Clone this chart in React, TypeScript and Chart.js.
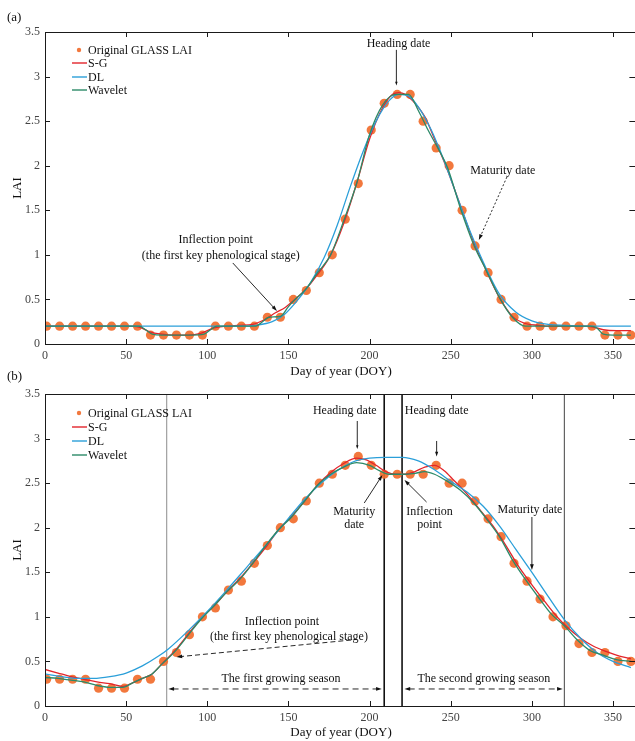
import { useEffect, useRef } from 'react';
import { Chart, registerables } from 'chart.js';

Chart.register(...registerables);

const SERIF = "'Liberation Serif', 'Times New Roman', Times, serif";

const xTickValues = [0, 50, 100, 150, 200, 250, 300, 350];
const yTickValues = [0, 0.5, 1, 1.5, 2, 2.5, 3, 3.5];
const yTickLabels = ['0', '0.5', '1', '1.5', '2', '2.5', '3', '3.5'];

const seriesNames = ['Original GLASS LAI', 'S-G', 'DL', 'Wavelet'];
const seriesColors = ['rgba(241,108,44,0.92)', '#e3242b', '#2b9fd9', '#2c8a68'];

// GLASS LAI 8-day composites
const obsDays = [
  1, 9, 17, 25, 33, 41, 49, 57, 65, 73, 81, 89, 97, 105, 113, 121, 129, 137, 145, 153, 161, 169, 177,
  185, 193, 201, 209, 217, 225, 233, 241, 249, 257, 265, 273, 281, 289, 297, 305, 313, 321, 329, 337,
  345, 353, 361,
];

// (a) single growing season
const obsLaiA = [
  0.2, 0.2, 0.2, 0.2, 0.2, 0.2, 0.2, 0.2, 0.1, 0.1, 0.1, 0.1, 0.1, 0.2, 0.2, 0.2, 0.2, 0.3, 0.3, 0.5,
  0.6, 0.8, 1.0, 1.4, 1.8, 2.4, 2.7, 2.8, 2.8, 2.5, 2.2, 2.0, 1.5, 1.1, 0.8, 0.5, 0.3, 0.2, 0.2, 0.2,
  0.2, 0.2, 0.2, 0.1, 0.1, 0.1,
];

const sgDaysA = [0, 10, 20, 30, 40, 50, 58, 64, 72, 80, 88, 96, 104, 112, 120, 128, 136, 142, 148, 154, 160, 168, 176, 184, 192, 200, 208, 214, 218, 222, 228, 234, 240, 248, 256, 264, 272, 280, 288, 296, 304, 312, 320, 330, 338, 344, 352, 361];
const sgLaiA = [0.2, 0.2, 0.2, 0.2, 0.2, 0.2, 0.19, 0.14, 0.11, 0.1, 0.1, 0.12, 0.18, 0.2, 0.21, 0.22, 0.28, 0.35, 0.41, 0.5, 0.6, 0.78, 1.0, 1.35, 1.8, 2.3, 2.65, 2.8, 2.82, 2.8, 2.7, 2.55, 2.3, 1.95, 1.55, 1.15, 0.82, 0.52, 0.31, 0.23, 0.21, 0.2, 0.2, 0.2, 0.19, 0.16, 0.15, 0.15];

const dlDaysA = [0, 40, 80, 120, 130, 140, 148, 156, 164, 172, 180, 188, 196, 204, 212, 218, 224, 230, 238, 246, 254, 262, 270, 280, 290, 300, 310, 320, 340, 361];
const dlLaiA = [0.2, 0.2, 0.2, 0.2, 0.21, 0.25, 0.34, 0.5, 0.7, 0.97, 1.33, 1.76, 2.16, 2.5, 2.73, 2.8, 2.78, 2.66, 2.4, 2.05, 1.65, 1.26, 0.92, 0.56, 0.36, 0.26, 0.22, 0.21, 0.2, 0.2];

const wvDaysA = [0, 10, 20, 30, 40, 50, 58, 62, 66, 72, 80, 90, 98, 102, 106, 114, 122, 130, 134, 138, 145, 150, 154, 160, 168, 176, 184, 192, 200, 208, 216, 224, 230, 236, 242, 248, 256, 264, 272, 280, 288, 296, 304, 320, 336, 340, 344, 350, 361];
const wvLaiA = [0.2, 0.2, 0.2, 0.2, 0.2, 0.2, 0.2, 0.16, 0.11, 0.1, 0.1, 0.1, 0.11, 0.16, 0.2, 0.2, 0.2, 0.2, 0.25, 0.3, 0.31, 0.42, 0.5, 0.6, 0.8, 1.0, 1.38, 1.8, 2.35, 2.68, 2.8, 2.8, 2.62, 2.4, 2.2, 1.98, 1.52, 1.12, 0.82, 0.52, 0.3, 0.2, 0.2, 0.2, 0.2, 0.18, 0.11, 0.1, 0.1];

// (b) two growing seasons
const obsLaiB = [
  0.3, 0.3, 0.3, 0.3, 0.2, 0.2, 0.2, 0.3, 0.3, 0.5, 0.6, 0.8, 1.0, 1.1, 1.3, 1.4, 1.6, 1.8, 2.0, 2.1,
  2.3, 2.5, 2.6, 2.7, 2.8, 2.7, 2.6, 2.6, 2.6, 2.6, 2.7, 2.5, 2.5, 2.3, 2.1, 1.9, 1.6, 1.4, 1.2, 1.0,
  0.9, 0.7, 0.6, 0.6, 0.5, 0.5,
];

const sgDaysB = [0, 8, 16, 24, 32, 40, 48, 54, 60, 66, 72, 80, 88, 96, 104, 112, 120, 128, 136, 144, 152, 160, 168, 176, 184, 192, 198, 204, 210, 216, 222, 228, 234, 240, 246, 252, 260, 268, 276, 284, 292, 300, 308, 316, 322, 330, 338, 346, 354, 361];
const sgLaiB = [0.41, 0.37, 0.33, 0.3, 0.27, 0.25, 0.22, 0.26, 0.31, 0.36, 0.47, 0.62, 0.8, 0.98, 1.12, 1.28, 1.43, 1.6, 1.78, 1.98, 2.13, 2.3, 2.48, 2.62, 2.72, 2.78, 2.76, 2.7, 2.63, 2.6, 2.6, 2.63, 2.68, 2.7, 2.64, 2.53, 2.38, 2.2, 2.02, 1.8, 1.56, 1.36, 1.17, 0.99, 0.88, 0.76, 0.67, 0.61, 0.56, 0.53];

const dlDaysB = [0, 10, 20, 30, 40, 50, 60, 70, 76, 88, 100, 112, 124, 136, 148, 160, 170, 180, 190, 200, 210, 220, 230, 240, 250, 260, 270, 280, 290, 300, 310, 320, 330, 340, 350, 361];
const dlLaiB = [0.36, 0.33, 0.31, 0.31, 0.33, 0.37, 0.45, 0.56, 0.64, 0.84, 1.06, 1.3, 1.55, 1.8, 2.06, 2.32, 2.5, 2.64, 2.74, 2.78, 2.79, 2.79, 2.75, 2.65, 2.52, 2.4, 2.24, 2.02, 1.76, 1.5, 1.23, 0.97, 0.76, 0.6, 0.5, 0.43];

const wvDaysB = [0, 8, 16, 24, 32, 40, 48, 54, 60, 66, 72, 80, 88, 96, 104, 112, 120, 128, 136, 144, 152, 160, 168, 176, 184, 192, 200, 206, 212, 220, 228, 234, 240, 248, 256, 264, 272, 280, 288, 296, 304, 312, 320, 328, 336, 344, 352, 361];
const wvLaiB = [0.32, 0.31, 0.29, 0.27, 0.23, 0.21, 0.21, 0.26, 0.31, 0.36, 0.47, 0.61, 0.79, 0.97, 1.12, 1.28, 1.42, 1.6, 1.8, 1.98, 2.12, 2.3, 2.48, 2.6, 2.68, 2.73, 2.7, 2.64, 2.6, 2.6, 2.61, 2.63, 2.6, 2.52, 2.42, 2.28, 2.1, 1.9, 1.64, 1.42, 1.22, 1.03, 0.9, 0.74, 0.62, 0.57, 0.52, 0.5];

// season boundaries drawn in (b): start of season 1, end of season 1, start / end of season 2
const seasonLinesB = [75, 209, 220, 320];

type Ctx = CanvasRenderingContext2D;
type Map1 = (v: number) => number;

// canvases run a little past the page edge so the right spine sits just outside the view
const CANVAS_W = 642;

function pairs(xs: number[], ys: number[]) {
  return xs.map((x, i) => ({ x, y: ys[i] }));
}

function label(ctx: Ctx, s: string, x: number, y: number, align: CanvasTextAlign = 'center', size = 12) {
  ctx.save();
  ctx.font = `${size}px ${SERIF}`;
  ctx.fillStyle = '#111';
  ctx.textAlign = align;
  ctx.textBaseline = 'middle';
  ctx.fillText(s, x, y);
  ctx.restore();
}

function arrow(
  ctx: Ctx,
  x1: number,
  y1: number,
  x2: number,
  y2: number,
  o: { dash?: number[]; both?: boolean; head?: number; lw?: number } = {},
) {
  const head = o.head ?? 6;
  const a = Math.atan2(y2 - y1, x2 - x1);
  ctx.save();
  ctx.strokeStyle = '#111';
  ctx.fillStyle = '#111';
  ctx.lineWidth = o.lw ?? 0.9;
  ctx.setLineDash(o.dash ?? []);
  const ex = x2 - Math.cos(a) * head * 0.7;
  const ey = y2 - Math.sin(a) * head * 0.7;
  const sx = o.both ? x1 + Math.cos(a) * head * 0.7 : x1;
  const sy = o.both ? y1 + Math.sin(a) * head * 0.7 : y1;
  ctx.beginPath();
  ctx.moveTo(sx, sy);
  ctx.lineTo(ex, ey);
  ctx.stroke();
  ctx.setLineDash([]);
  const tip = (x: number, y: number, ang: number) => {
    ctx.beginPath();
    ctx.moveTo(x, y);
    ctx.lineTo(x - head * Math.cos(ang - 0.32), y - head * Math.sin(ang - 0.32));
    ctx.lineTo(x - head * Math.cos(ang + 0.32), y - head * Math.sin(ang + 0.32));
    ctx.closePath();
    ctx.fill();
  };
  tip(x2, y2, a);
  if (o.both) tip(x1, y1, a + Math.PI);
  ctx.restore();
}

type Panel = {
  letter: string;
  canvasTop: number;
  canvasHeight: number;
  plotTop: number;
  plotBottom: number;
  letterY: number;
  xTitleY: number;
  legendY: number[];
  obs: number[];
  sg: [number[], number[]];
  dl: [number[], number[]];
  wv: [number[], number[]];
  behind?: (ctx: Ctx, X: Map1, Y: Map1, top: number, bottom: number) => void;
  notes: (ctx: Ctx, X: Map1, Y: Map1) => void;
};

const panelA: Panel = {
  letter: '(a)',
  canvasTop: 0,
  canvasHeight: 380,
  plotTop: 32,
  plotBottom: 344,
  letterY: 18,
  xTitleY: 372,
  legendY: [50, 63, 77, 90],
  obs: obsLaiA,
  sg: [sgDaysA, sgLaiA],
  dl: [dlDaysA, dlLaiA],
  wv: [wvDaysA, wvLaiA],
  notes: (ctx, X, Y) => {
    label(ctx, 'Heading date', X(217.8), Y(3.365));
    arrow(ctx, X(216.5), Y(3.3), X(216.5), Y(2.9), { head: 4 });
    label(ctx, 'Maturity date', X(282.1), Y(1.94));
    arrow(ctx, X(284.6), Y(1.873), X(267.3), Y(1.167), { dash: [2, 2] });
    label(ctx, 'Inflection point', X(105.2), Y(1.167));
    label(ctx, '(the first key phenological stage)', X(108.3), Y(0.987));
    arrow(ctx, X(115.7), Y(0.909), X(142.9), Y(0.37));
  },
};

const panelB: Panel = {
  letter: '(b)',
  canvasTop: 360,
  canvasHeight: 381,
  plotTop: 34,
  plotBottom: 346,
  letterY: 17,
  xTitleY: 373,
  legendY: [53, 67, 81, 95],
  obs: obsLaiB,
  sg: [sgDaysB, sgLaiB],
  dl: [dlDaysB, dlLaiB],
  wv: [wvDaysB, wvLaiB],
  behind: (ctx, X, _Y, top, bottom) => {
    const styles = [
      { c: '#8c8c8c', w: 1 },
      { c: '#111', w: 1.6 },
      { c: '#111', w: 1.6 },
      { c: '#555', w: 1.1 },
    ];
    seasonLinesB.forEach((d, i) => {
      ctx.save();
      ctx.strokeStyle = styles[i].c;
      ctx.lineWidth = styles[i].w;
      ctx.beginPath();
      ctx.moveTo(X(d), top);
      ctx.lineTo(X(d), bottom);
      ctx.stroke();
      ctx.restore();
    });
  },
  notes: (ctx, X, Y) => {
    label(ctx, 'Heading date', X(184.7), Y(3.313));
    arrow(ctx, X(192.4), Y(3.197), X(192.4), Y(2.883), { head: 4 });
    label(ctx, 'Heading date', X(241.3), Y(3.313));
    arrow(ctx, X(241.3), Y(2.973), X(241.3), Y(2.8), { head: 5 });
    label(ctx, 'Maturity', X(190.5), Y(2.18));
    label(ctx, 'date', X(190.5), Y(2.031));
    arrow(ctx, X(196.7), Y(2.277), X(207.9), Y(2.591));
    label(ctx, 'Inflection', X(236.9), Y(2.176));
    label(ctx, 'point', X(236.9), Y(2.031));
    arrow(ctx, X(235.1), Y(2.288), X(221.5), Y(2.535));
    label(ctx, 'Maturity date', X(298.8), Y(2.199));
    arrow(ctx, X(300), Y(2.12), X(300), Y(1.526));
    label(ctx, 'Inflection point', X(146), Y(0.942));
    label(ctx, '(the first key phenological stage)', X(150.3), Y(0.774));
    arrow(ctx, X(188.7), Y(0.74), X(81), Y(0.55), { dash: [5, 3] });
    label(ctx, 'The first growing season', X(145.4), Y(0.303));
    arrow(ctx, X(76), Y(0.191), X(207.5), Y(0.191), { dash: [6, 4], both: true });
    label(ctx, 'The second growing season', X(270.4), Y(0.303));
    arrow(ctx, X(221.5), Y(0.191), X(319), Y(0.191), { dash: [6, 4], both: true });
  },
};

function overlay(panel: Panel) {
  return {
    id: 'panelOverlay',
    beforeDatasetsDraw(chart: Chart) {
      if (!panel.behind) return;
      const { ctx, chartArea } = chart;
      const X = (v: number) => chart.scales.x.getPixelForValue(v);
      const Y = (v: number) => chart.scales.y.getPixelForValue(v);
      panel.behind(ctx, X, Y, chartArea.top, chartArea.bottom);
    },
    afterDraw(chart: Chart) {
      const { ctx, chartArea } = chart;
      const { left, right, top, bottom } = chartArea;
      const X = (v: number) => chart.scales.x.getPixelForValue(v);
      const Y = (v: number) => chart.scales.y.getPixelForValue(v);

      // axes box with inward ticks on all sides
      ctx.save();
      ctx.strokeStyle = '#1a1a1a';
      ctx.lineWidth = 1;
      ctx.strokeRect(Math.round(left) + 0.5, Math.round(top) + 0.5, right - left, bottom - top);
      ctx.beginPath();
      xTickValues.forEach((v) => {
        const p = Math.round(X(v)) + 0.5;
        ctx.moveTo(p, bottom);
        ctx.lineTo(p, bottom - 5);
        ctx.moveTo(p, top);
        ctx.lineTo(p, top + 5);
      });
      yTickValues.forEach((v) => {
        const p = Math.round(Y(v)) + 0.5;
        ctx.moveTo(left, p);
        ctx.lineTo(left + 5, p);
        ctx.moveTo(right, p);
        ctx.lineTo(right - 8, p);
      });
      ctx.stroke();
      ctx.restore();

      // legend
      const lx0 = 72;
      const lx1 = 87;
      panel.legendY.forEach((y, i) => {
        ctx.save();
        if (i === 0) {
          ctx.fillStyle = seriesColors[0];
          ctx.beginPath();
          ctx.arc(79, y, 2.2, 0, Math.PI * 2);
          ctx.fill();
        } else {
          ctx.strokeStyle = seriesColors[i];
          ctx.lineWidth = 1.4;
          ctx.beginPath();
          ctx.moveTo(lx0, y);
          ctx.lineTo(lx1, y);
          ctx.stroke();
        }
        ctx.restore();
        label(ctx, seriesNames[i], 88, y + 0.5, 'left', 12);
      });

      // panel letter and axis titles
      label(ctx, panel.letter, 7, panel.letterY, 'left', 13);
      label(ctx, 'Day of year (DOY)', 341, panel.xTitleY, 'center', 13);
      ctx.save();
      ctx.translate(18, (top + bottom) / 2);
      ctx.rotate(-Math.PI / 2);
      label(ctx, 'LAI', 0, 0, 'center', 13);
      ctx.restore();

      panel.notes(ctx, X, Y);
    },
  };
}

function makeChart(canvas: HTMLCanvasElement, panel: Panel) {
  const tickFont = { family: SERIF, size: 12 };
  const curve = (name: string, color: string, d: [number[], number[]], order: number) => ({
    label: name,
    data: pairs(d[0], d[1]),
    borderColor: color,
    backgroundColor: color,
    borderWidth: 1.3,
    pointRadius: 0,
    cubicInterpolationMode: 'monotone' as const,
    fill: false,
    order,
  });
  return new Chart(canvas, {
    type: 'line',
    data: {
      datasets: [
        {
          label: seriesNames[0],
          data: pairs(obsDays, panel.obs),
          showLine: false,
          pointRadius: 4.6,
          pointBorderWidth: 0,
          pointBackgroundColor: seriesColors[0],
          backgroundColor: seriesColors[0],
          order: 4,
        },
        curve(seriesNames[1], seriesColors[1], panel.sg, 3),
        curve(seriesNames[2], seriesColors[2], panel.dl, 2),
        curve(seriesNames[3], seriesColors[3], panel.wv, 1),
      ],
    },
    options: {
      responsive: false,
      animation: false,
      events: [],
      layout: { padding: { top: panel.plotTop, left: 0, right: 0, bottom: 0 } },
      plugins: { legend: { display: false }, tooltip: { enabled: false } },
      scales: {
        x: {
          type: 'linear',
          min: 0,
          max: 365,
          grid: { display: false, drawTicks: false },
          border: { display: false },
          afterBuildTicks: (s: any) => {
            s.ticks = xTickValues.map((value) => ({ value }));
          },
          afterFit: (s: any) => {
            s.height = panel.canvasHeight - panel.plotBottom;
          },
          ticks: {
            padding: 5,
            color: '#444',
            font: tickFont,
            maxRotation: 0,
            autoSkip: false,
            callback: (v: any) => String(v),
          },
        },
        y: {
          type: 'linear',
          min: 0,
          max: 3.5,
          grid: { display: false, drawTicks: false },
          border: { display: false },
          afterBuildTicks: (s: any) => {
            s.ticks = yTickValues.map((value) => ({ value }));
          },
          afterFit: (s: any) => {
            s.width = 45;
          },
          ticks: {
            padding: 5,
            color: '#444',
            font: tickFont,
            autoSkip: false,
            callback: (_v: any, i: number) => yTickLabels[i],
          },
        },
      },
    },
    plugins: [overlay(panel)],
  } as any);
}

function PanelCanvas({ panel }: { panel: Panel }) {
  const ref = useRef<HTMLCanvasElement>(null);
  useEffect(() => {
    if (!ref.current) return;
    const chart = makeChart(ref.current, panel);
    return () => chart.destroy();
  }, [panel]);
  return (
    <canvas
      ref={ref}
      width={CANVAS_W}
      height={panel.canvasHeight}
      style={{ position: 'absolute', left: 0, top: panel.canvasTop, width: CANVAS_W, height: panel.canvasHeight }}
    />
  );
}

export default function App() {
  return (
    <div style={{ position: 'absolute', left: 0, top: 0, width: 635, height: 741, background: '#fff', overflow: 'hidden' }}>
      <PanelCanvas panel={panelA} />
      <PanelCanvas panel={panelB} />
    </div>
  );
}
